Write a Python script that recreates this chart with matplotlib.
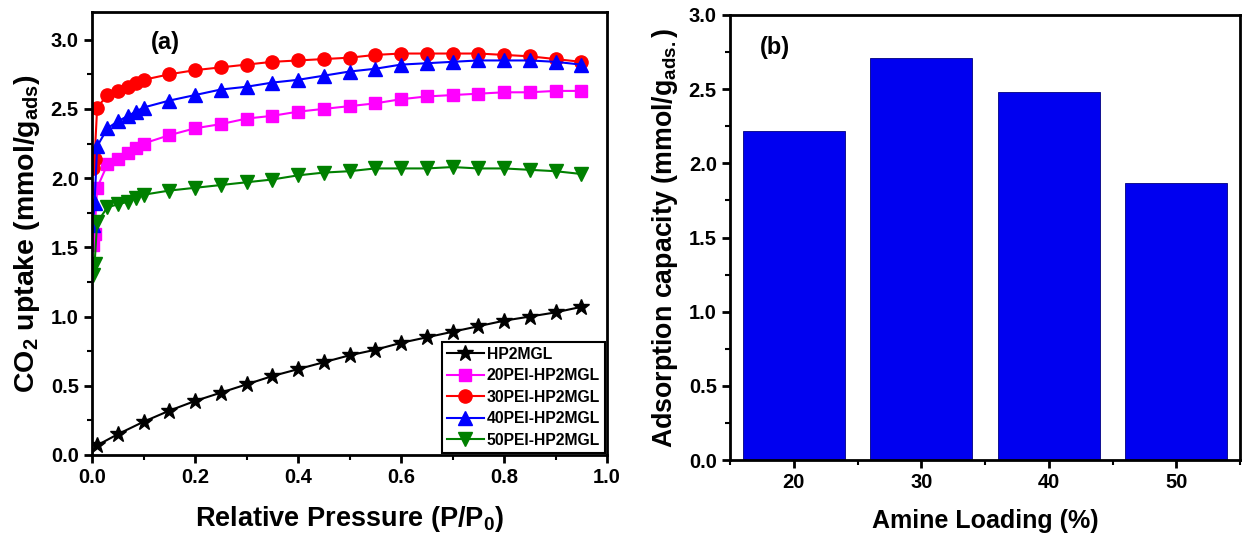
import numpy as np
import matplotlib.pyplot as plt
from matplotlib.ticker import MultipleLocator

plt.rcParams['font.family'] = ['Liberation Sans', 'DejaVu Sans']
plt.rcParams['font.weight'] = 'bold'
plt.rcParams['mathtext.default'] = 'regular'

# isotherm data, P/P0 vs CO2 uptake (mmol/g)
p_bare = [0.01, 0.05, 0.10, 0.15, 0.20, 0.25, 0.30, 0.35, 0.40, 0.45,
          0.50, 0.55, 0.60, 0.65, 0.70, 0.75, 0.80, 0.85, 0.90, 0.95]
hp2mgl = [0.07, 0.15, 0.24, 0.32, 0.39, 0.45, 0.51, 0.57, 0.62, 0.67,
          0.72, 0.76, 0.81, 0.85, 0.89, 0.93, 0.97, 1.00, 1.03, 1.07]

p_pei = [0.002, 0.005, 0.01, 0.03, 0.05, 0.07, 0.085, 0.10, 0.15, 0.20,
         0.25, 0.30, 0.35, 0.40, 0.45, 0.50, 0.55, 0.60, 0.65, 0.70,
         0.75, 0.80, 0.85, 0.90, 0.95]
pei20 = [1.52, 1.60, 1.93, 2.10, 2.14, 2.18, 2.22, 2.25, 2.31, 2.36,
         2.39, 2.43, 2.45, 2.48, 2.50, 2.52, 2.54, 2.57, 2.59, 2.60,
         2.61, 2.62, 2.62, 2.63, 2.63]
pei30 = [2.07, 2.14, 2.51, 2.60, 2.63, 2.66, 2.69, 2.71, 2.75, 2.78,
         2.80, 2.82, 2.84, 2.85, 2.86, 2.87, 2.89, 2.90, 2.90, 2.90,
         2.90, 2.89, 2.88, 2.86, 2.84]
pei40 = [1.66, 1.82, 2.23, 2.36, 2.41, 2.45, 2.48, 2.51, 2.56, 2.60,
         2.64, 2.66, 2.69, 2.71, 2.74, 2.77, 2.79, 2.82, 2.83, 2.84,
         2.85, 2.85, 2.85, 2.84, 2.82]
pei50 = [1.30, 1.38, 1.68, 1.79, 1.81, 1.83, 1.86, 1.88, 1.91, 1.93,
         1.95, 1.97, 1.99, 2.02, 2.04, 2.05, 2.07, 2.07, 2.07, 2.08,
         2.07, 2.07, 2.06, 2.05, 2.03]

# adsorption capacity vs amine loading
loading = [20, 30, 40, 50]
capacity = [2.22, 2.71, 2.48, 1.87]

fig = plt.figure(figsize=(12.43, 5.43), dpi=100)
ax1 = fig.add_axes([92/1243, 1-455/543, 515/1243, 443/543])
ax2 = fig.add_axes([730/1243, 1-460/543, 510/1243, 445/543])

ax1.plot(p_bare, hp2mgl, '-', color='black', marker='*', ms=12, lw=1.5, label='HP2MGL')
ax1.plot(p_pei, pei20, '-', color='#FF00FF', marker='s', ms=8.5, lw=1.5, label='20PEI-HP2MGL')
ax1.plot(p_pei, pei30, '-', color='#FF0000', marker='o', ms=9.5, lw=1.5, label='30PEI-HP2MGL')
ax1.plot(p_pei, pei40, '-', color='#0000FF', marker='^', ms=9.5, lw=1.5, label='40PEI-HP2MGL')
ax1.plot(p_pei, pei50, '-', color='#008000', marker='v', ms=9.5, lw=1.5, label='50PEI-HP2MGL')

ax1.set_xlim(0, 1.0)
ax1.set_ylim(0, 3.2)
ax1.xaxis.set_major_locator(MultipleLocator(0.2))
ax1.xaxis.set_minor_locator(MultipleLocator(0.1))
ax1.yaxis.set_major_locator(MultipleLocator(0.5))
ax1.yaxis.set_minor_locator(MultipleLocator(0.25))
ax1.set_xlabel('Relative Pressure (P/P$_0$)', fontsize=19.5, fontweight='bold', labelpad=12)
ax1.set_ylabel('CO$_2$ uptake (mmol/g$_{ads}$)', fontsize=20.5, fontweight='bold', labelpad=6)
ax1.text(0.142, 2.98, '(a)', fontsize=17, fontweight='bold', ha='center', va='center')
leg = ax1.legend(loc='lower right', prop={'weight': 'bold', 'size': 11.3},
                 frameon=True, fancybox=False, edgecolor='black', framealpha=1,
                 handlelength=2.4, handletextpad=0.15, borderpad=0.3,
                 labelspacing=0.42, borderaxespad=0.15)
leg.get_frame().set_linewidth(1.5)

ax2.bar(loading, capacity, width=8, color='#0000F0', edgecolor='#000080', linewidth=0.6)
ax2.set_xlim(15, 55)
ax2.set_ylim(0, 3.0)
ax2.set_xticks(loading)
ax2.xaxis.set_minor_locator(MultipleLocator(5))
ax2.yaxis.set_major_locator(MultipleLocator(0.5))
ax2.yaxis.set_minor_locator(MultipleLocator(0.25))
ax2.set_xlabel('Amine Loading (%)', fontsize=18, fontweight='bold', labelpad=12)
ax2.set_ylabel('Adsorption capacity (mmol/g$_{ads.}$)', fontsize=19.3, fontweight='bold', labelpad=6)
ax2.text(18.5, 2.78, '(b)', fontsize=17, fontweight='bold', ha='center', va='center')

for ax in (ax1, ax2):
    for side in ('left', 'bottom', 'top', 'right'):
        ax.spines[side].set_linewidth(2)
    ax.tick_params(which='major', direction='out', length=6, width=2, labelsize=14.5,
                   top=False, right=False)
    ax.tick_params(which='minor', direction='out', length=3.5, width=1.5,
                   top=False, right=False)
    for lab in ax.get_xticklabels() + ax.get_yticklabels():
        lab.set_fontweight('bold')

fig.savefig('out.png', dpi=100)
